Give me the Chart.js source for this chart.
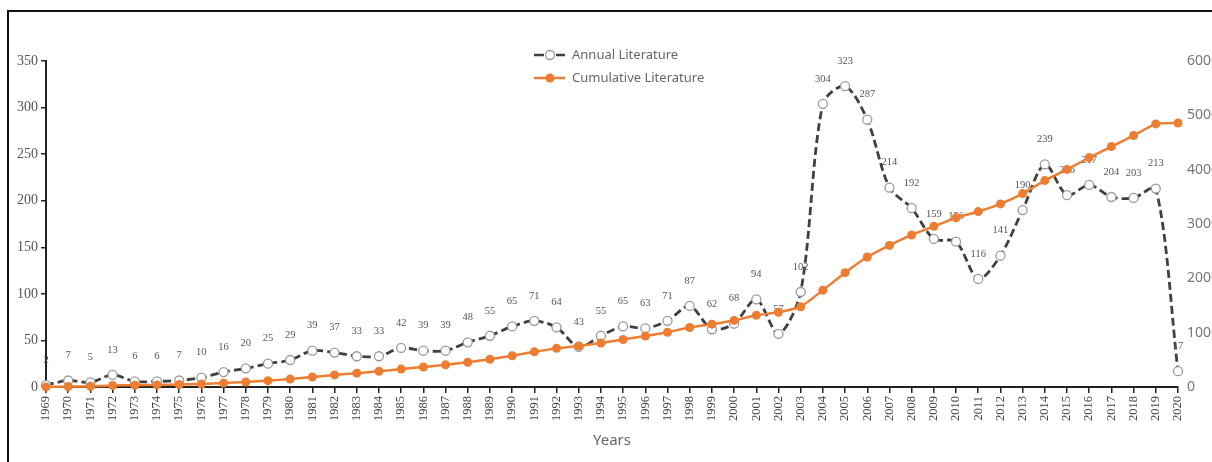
<!DOCTYPE html>
<html lang="en">

<head>
    <meta charset="UTF-8">
    <title>Literature by year</title>
    <script src="https://cdn.jsdelivr.net/npm/chart.js@4"></script>
    <style>
        body { margin: 0; background: #fff; }
        #wrap { position: relative; width: 1212px; height: 462px; overflow: hidden; }
        #frame { position: absolute; left: 7px; top: 10px; width: 1300px; height: 500px;
                 border-left: 2px solid #111; border-top: 2px solid #111; }
        #canvas { position: absolute; left: 0; top: 0; }
    </style>
</head>

<body>
    <div id="wrap">
        <div id="frame"></div>
        <canvas id="canvas" width="1212" height="462"></canvas>
    </div>
    <script>
        // data
        const years = [];
        for (let y = 1969; y <= 2020; y++) years.push(String(y));

        const annual = [2, 7, 5, 13, 6, 6, 7, 10, 16, 20, 25, 29, 39, 37, 33, 33, 42, 39, 39, 48,
            55, 65, 71, 64, 43, 55, 65, 63, 71, 87, 62, 68, 94, 57, 102, 304, 323, 287, 214, 192,
            159, 156, 116, 141, 190, 239, 206, 217, 204, 203, 213, 17];

        const cumulative = [2, 9, 14, 27, 33, 39, 46, 56, 72, 92, 117, 146, 185, 222, 255, 288, 330,
            369, 408, 456, 511, 576, 647, 711, 754, 809, 874, 937, 1008, 1095, 1157, 1225, 1319, 1376,
            1478, 1782, 2105, 2392, 2606, 2798, 2957, 3113, 3229, 3370, 3560, 3799, 4005, 4222, 4426,
            4629, 4842, 4859];

        const leftTicks = [0, 50, 100, 150, 200, 250, 300, 350];
        const rightTicks = [0, 1000, 2000, 3000, 4000, 5000, 6000];

        const ORANGE = '#ED7D31';
        const DARK = '#222';

        // numbers above the annual points, drawn before the orange line goes on top
        const valueLabels = {
            id: 'valueLabels',
            afterDatasetDraw(chart, args) {
                if (args.index !== 0) return;
                const ctx = chart.ctx;
                ctx.save();
                ctx.font = '10.5px "Liberation Serif", serif';
                ctx.fillStyle = '#555';
                ctx.textAlign = 'center';
                ctx.textBaseline = 'middle';
                args.meta.data.forEach((pt, i) => {
                    ctx.fillText(String(annual[i]), pt.x, pt.y - 25);
                });
                ctx.restore();
            }
        };

        // legend with line + marker samples
        const lineLegend = {
            id: 'lineLegend',
            afterDraw(chart) {
                const ctx = chart.ctx;
                ctx.save();
                // annual
                ctx.strokeStyle = '#404040';
                ctx.lineWidth = 2.5;
                ctx.beginPath();
                ctx.moveTo(534, 55); ctx.lineTo(544, 55);
                ctx.moveTo(556, 55); ctx.lineTo(565, 55);
                ctx.stroke();
                ctx.beginPath();
                ctx.arc(550, 55, 4.5, 0, Math.PI * 2);
                ctx.fillStyle = '#fff';
                ctx.fill();
                ctx.strokeStyle = '#999';
                ctx.lineWidth = 1.3;
                ctx.stroke();
                // cumulative
                ctx.strokeStyle = ORANGE;
                ctx.lineWidth = 2.5;
                ctx.beginPath();
                ctx.moveTo(534, 78); ctx.lineTo(565, 78);
                ctx.stroke();
                ctx.beginPath();
                ctx.arc(550, 78, 4.5, 0, Math.PI * 2);
                ctx.fillStyle = ORANGE;
                ctx.fill();

                ctx.font = '13px "Noto Sans", sans-serif';
                ctx.fillStyle = '#666';
                ctx.textAlign = 'left';
                ctx.textBaseline = 'middle';
                ctx.fillText('Annual Literature', 572, 55);
                ctx.fillText('Cumulative Literature', 572, 78);
                ctx.restore();
            }
        };

        let ctx = document.getElementById('canvas').getContext('2d');
        let config = {
            type: 'line',
            data: {
                labels: years,
                datasets: [{
                    label: 'Annual Literature',
                    data: annual,
                    yAxisID: 'y',
                    order: 2,
                    borderColor: '#404040',
                    borderWidth: 2.8,
                    borderDash: [8, 4],
                    tension: 0.3,
                    pointRadius: 4.5,
                    pointBorderWidth: 1.3,
                    pointBorderColor: '#999',
                    pointBackgroundColor: '#fff',
                    clip: false
                }, {
                    label: 'Cumulative Literature',
                    data: cumulative,
                    yAxisID: 'y2',
                    order: 1,
                    borderColor: ORANGE,
                    borderWidth: 2.5,
                    tension: 0.15,
                    pointRadius: 4.5,
                    pointBorderWidth: 0,
                    pointBackgroundColor: ORANGE,
                    clip: false
                }]
            },
            options: {
                responsive: false,
                animation: false,
                layout: { padding: { top: 61, left: 0, right: 0, bottom: 0 } },
                plugins: {
                    legend: { display: false },
                    tooltip: { enabled: false }
                },
                scales: {
                    x: {
                        offset: false,
                        grid: { drawOnChartArea: false, tickLength: 6, color: DARK, lineWidth: 1.5 },
                        border: { display: true, color: DARK, width: 2 },
                        ticks: {
                            autoSkip: false, minRotation: 90, maxRotation: 90, padding: 3,
                            color: '#444', font: { family: '"Liberation Serif", serif', size: 12.5 }
                        },
                        title: {
                            display: true, text: 'Years', color: '#666',
                            font: { family: '"Noto Sans", sans-serif', size: 15 },
                            padding: { top: 0, bottom: 12 }
                        },
                        afterFit(scale) { scale.height = 75; }
                    },
                    y: {
                        position: 'left',
                        min: 0, max: 350,
                        afterBuildTicks(scale) { scale.ticks = leftTicks.map(v => ({ value: v })); },
                        grid: { drawOnChartArea: false, tickLength: 5, color: DARK, lineWidth: 1.5 },
                        border: { display: true, color: DARK, width: 2 },
                        ticks: {
                            padding: 3, color: '#555',
                            font: { family: '"Liberation Serif", serif', size: 14 }
                        },
                        afterFit(scale) { scale.width = 46; }
                    },
                    y2: {
                        position: 'right',
                        min: 0, max: 6000,
                        afterBuildTicks(scale) { scale.ticks = rightTicks.map(v => ({ value: v })); },
                        grid: { display: false, drawTicks: false },
                        border: { display: false },
                        ticks: {
                            padding: 9, color: '#777',
                            font: { family: '"Noto Sans", sans-serif', size: 14 },
                            callback: v => String(v)
                        },
                        afterFit(scale) { scale.width = 34; }
                    }
                }
            },
            plugins: [valueLabels, lineLegend]
        };

        let chart = new Chart(ctx, config);
    </script>
</body>

</html>
